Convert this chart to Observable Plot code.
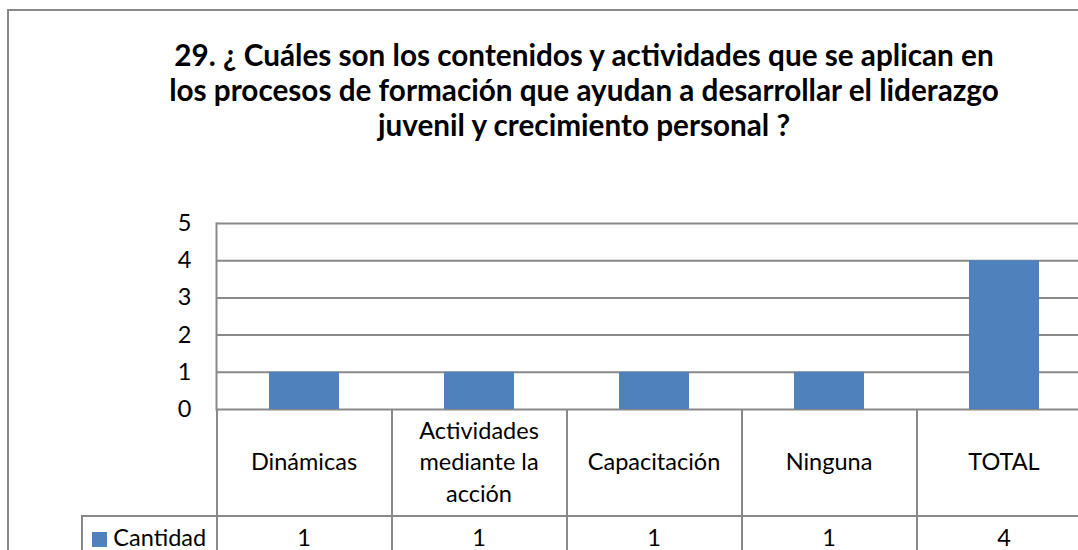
<!DOCTYPE html>
<html><head><meta charset="utf-8">
<script src="https://cdn.jsdelivr.net/npm/d3@7"></script>
<script src="https://cdn.jsdelivr.net/npm/@observablehq/plot@0.6"></script>
<style>
html,body{margin:0;padding:0;background:#fff;overflow:hidden;width:1078px;height:550px;}
#frame{position:absolute;left:7px;top:9px;width:1200px;height:700px;border:2px solid #898989;box-sizing:border-box;}
#title{position:absolute;left:0;top:37px;width:1168px;text-align:center;font-family:Lato,sans-serif;font-weight:bold;font-size:29.7px;line-height:35px;color:#000;}
#plot{position:absolute;left:0;top:200px;}
.cell{position:absolute;box-sizing:border-box;font-family:Lato,sans-serif;font-size:23.5px;color:#000;text-align:center;}
.hdr{display:flex;align-items:center;justify-content:center;padding:0 18px;line-height:31.5px;border-left:2px solid #898989;}
.val{border-left:2px solid #898989;border-top:2px solid #898989;line-height:40px;}
.sw{display:inline-block;width:15px;height:15px;background:#4F81BD;margin-right:6px;vertical-align:-1px;}
</style>
</head><body>
<div id="frame"></div>
<div id="title">29. ¿ Cuáles son los contenidos y actividades que se aplican en<br>los procesos de formación que ayudan a desarrollar el liderazgo<br>juvenil y crecimiento personal ?</div>
<div id="plot"></div>
<div id="table"></div>
<script>
const categorias = ["Dinámicas", "Actividades mediante la acción", "Capacitación", "Ninguna", "TOTAL"];
const cantidad = [1, 1, 1, 1, 4];
const serie = "Cantidad";
const yTicks = [0, 1, 2, 3, 4, 5];

const datos = categorias.map((c, i) => ({categoria: c, cantidad: cantidad[i]}));
const gray = "#898989";

const plot = Plot.plot({
  width: 1093, height: 220,
  marginLeft: 216, marginRight: 0, marginTop: 23, marginBottom: 11,
  x: {domain: categorias, paddingInner: 0.6, paddingOuter: 0.3, axis: null},
  y: {domain: [0, 5], axis: null},
  style: {fontFamily: "Lato, sans-serif", fontSize: "23.5px", color: "#000", background: "transparent", overflow: "visible", maxWidth: "none"},
  marks: [
    Plot.gridY(yTicks, {stroke: gray, strokeOpacity: 1, strokeWidth: 2}),
    Plot.barY(datos, {x: "categoria", y: "cantidad", fill: "#4F81BD"}),
    Plot.axisY(yTicks, {tickSize: 0, tickPadding: 25, fontSize: 23.5, label: null, fill: "#000"}),
    Plot.frame({anchor: "left", stroke: gray, strokeWidth: 2})
  ]
});
document.getElementById("plot").appendChild(plot);

// data table below the chart, positioned from the plot's x scale
const xs = plot.scale("x");
const step = xs.step;
const off = (step - xs.bandwidth) / 2;
const table = document.getElementById("table");
const top0 = 200 + 220 - 11; // plot baseline
const hdrH = 106;
categorias.forEach((c, i) => {
  const left = xs.apply(c) - off;
  const h = document.createElement("div");
  h.className = "cell hdr";
  Object.assign(h.style, {left: (left - 1) + "px", top: top0 + "px", width: step + "px", height: hdrH + "px"});
  h.textContent = c;
  table.appendChild(h);
  const v = document.createElement("div");
  v.className = "cell val";
  Object.assign(v.style, {left: (left - 1) + "px", top: (top0 + hdrH) + "px", width: step + "px", height: "60px"});
  v.textContent = cantidad[i];
  table.appendChild(v);
});
const lg = document.createElement("div");
lg.className = "cell val";
const firstLeft = xs.apply(categorias[0]) - off;
Object.assign(lg.style, {left: "81px", top: (top0 + hdrH) + "px", width: (firstLeft - 82) + "px", height: "60px"});
lg.innerHTML = '<span class="sw"></span>' + serie;
table.appendChild(lg);
</script>
</body></html>
